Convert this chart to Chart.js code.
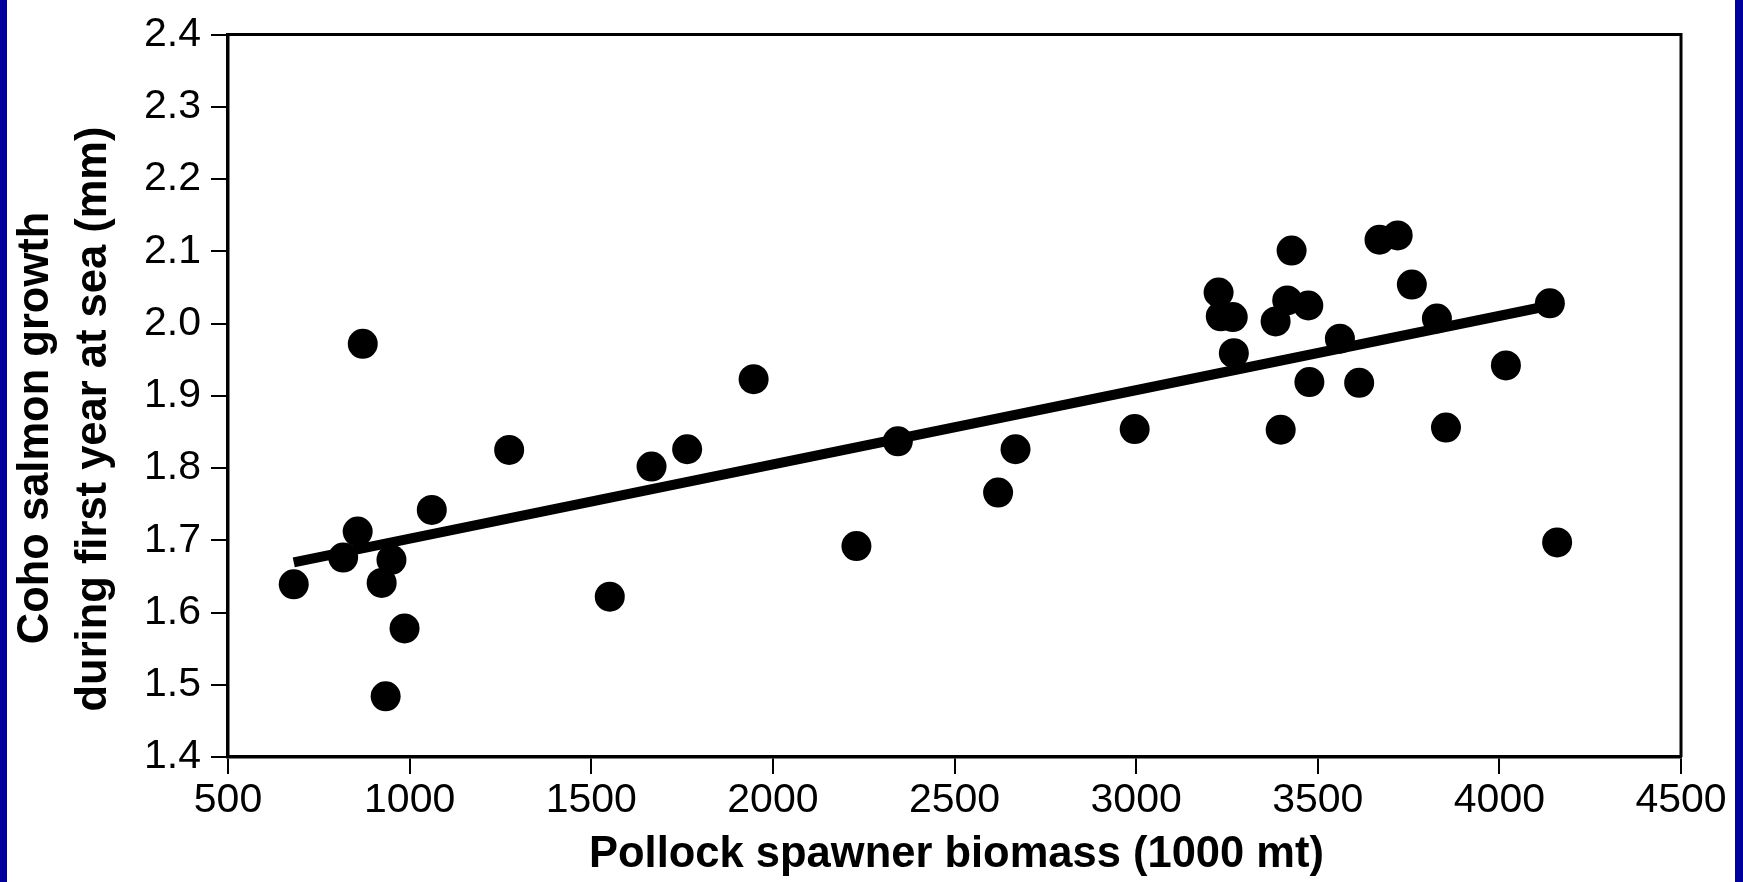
<!DOCTYPE html>
<html>
<head>
<meta charset="utf-8">
<title>Coho salmon growth vs pollock spawner biomass</title>
<script src="https://cdn.jsdelivr.net/npm/chart.js@4.4.1/dist/chart.umd.min.js"></script>
<style>
  html, body { margin: 0; padding: 0; background: #00009c; }
  #wrap { position: absolute; left: 7px; top: 0; width: 1728px; height: 882px; background: #ffffff; }
  canvas { display: block; }
</style>
</head>
<body>
<div id="wrap"><canvas id="chart" width="1728" height="882"></canvas></div>
<script>
// Pollock spawner biomass (1000 mt) for each year
const biomass = [681, 817, 857, 871, 923, 934, 950, 986, 1061, 1274,
                 1551, 1666, 1764, 1947, 2230, 2344, 2620, 2668, 2996, 3227,
                 3233, 3266, 3269, 3384, 3398, 3416, 3428, 3474, 3477, 3561,
                 3614, 3670, 3720, 3759, 3828, 3853, 4018, 4139, 4159];

// Coho salmon growth during first year at sea (mm)
const growth = [1.639, 1.676, 1.712, 1.972, 1.641, 1.484, 1.673, 1.578, 1.742, 1.825,
                1.622, 1.802, 1.826, 1.923, 1.692, 1.837, 1.766, 1.826, 1.854, 2.043,
                2.010, 2.009, 1.959, 2.003, 1.853, 2.032, 2.101, 2.025, 1.919, 1.979,
                1.918, 2.116, 2.122, 2.054, 2.007, 1.856, 1.942, 2.028, 1.697];

// Fitted trend line end points
const trendX = [681, 4140];
const trendY = [1.6695, 2.025];

// Axis ticks
const xTickValues = [500, 1000, 1500, 2000, 2500, 3000, 3500, 4000, 4500];
const xTickLabels = ['500', '1000', '1500', '2000', '2500', '3000', '3500', '4000', '4500'];
const yTickValues = [1.4, 1.5, 1.6, 1.7, 1.8, 1.9, 2.0, 2.1, 2.2, 2.3, 2.4];
const yTickLabels = ['1.4', '1.5', '1.6', '1.7', '1.8', '1.9', '2.0', '2.1', '2.2', '2.3', '2.4'];

const xTitle = 'Pollock spawner biomass (1000 mt)';
const yTitle = ['Coho salmon growth', 'during first year at sea (mm)'];

const FONT = '"Liberation Sans", Arial, Helvetica, sans-serif';

const points = biomass.map((b, i) => ({ x: b, y: growth[i] }));
const trend = trendX.map((b, i) => ({ x: b, y: trendY[i] }));

// Closes the plot box (top and right edges) and draws the axis titles
const frameAndTitles = {
  id: 'frameAndTitles',
  afterDraw(chart) {
    const { ctx, chartArea: a } = chart;
    ctx.save();
    ctx.strokeStyle = '#000';
    ctx.lineWidth = 3;
    ctx.beginPath();
    ctx.moveTo(a.left, a.top);
    ctx.lineTo(a.right, a.top);
    ctx.lineTo(a.right, a.bottom);
    ctx.stroke();

    ctx.fillStyle = '#000';
    ctx.font = 'bold 43.5px ' + FONT;
    ctx.textAlign = 'center';
    ctx.textBaseline = 'alphabetic';
    ctx.fillText(xTitle, (a.left + a.right) / 2 + 2, 867);

    const baselines = [41, 99];
    const centers = [428, 419];
    yTitle.forEach((line, i) => {
      ctx.save();
      ctx.translate(baselines[i], centers[i]);
      ctx.rotate(-Math.PI / 2);
      ctx.fillText(line, 0, 0);
      ctx.restore();
    });
    ctx.restore();
  }
};

const tickFont = { family: FONT, size: 41 };
const gridOpts = {
  display: true,
  drawOnChartArea: false,
  drawTicks: true,
  tickLength: 17,
  lineWidth: 2,
  tickWidth: 2,
  color: '#000',
  tickColor: '#000'
};
const borderOpts = { display: true, color: '#000', width: 3.5 };

new Chart(document.getElementById('chart'), {
  type: 'scatter',
  data: {
    datasets: [
      {
        type: 'line',
        data: trend,
        borderColor: '#000',
        borderWidth: 10,
        borderCapStyle: 'butt',
        pointRadius: 0,
        fill: false,
        tension: 0
      },
      {
        type: 'scatter',
        data: points,
        backgroundColor: '#000',
        borderColor: '#000',
        borderWidth: 0,
        pointRadius: 15,
        pointHoverRadius: 15
      }
    ]
  },
  options: {
    responsive: false,
    animation: false,
    devicePixelRatio: 1,
    events: [],
    layout: { padding: { top: 31, right: 54, left: 0, bottom: 0 } },
    plugins: {
      legend: { display: false },
      tooltip: { enabled: false },
      title: { display: false }
    },
    scales: {
      x: {
        type: 'linear',
        position: 'bottom',
        min: 500,
        max: 4500,
        afterBuildTicks(scale) { scale.ticks = xTickValues.map(v => ({ value: v })); },
        afterFit(scale) { scale.height = 125; },
        ticks: {
          color: '#000',
          font: tickFont,
          padding: 2,
          maxRotation: 0,
          autoSkip: false,
          callback: (v) => xTickLabels[xTickValues.indexOf(v)]
        },
        grid: gridOpts,
        border: borderOpts,
        title: { display: false }
      },
      y: {
        type: 'linear',
        position: 'left',
        min: 1.4,
        max: 2.4,
        afterBuildTicks(scale) { scale.ticks = yTickValues.map(v => ({ value: v })); },
        afterFit(scale) { scale.width = 221; },
        ticks: {
          color: '#000',
          font: tickFont,
          padding: 10,
          autoSkip: false,
          callback: (v) => {
            const i = yTickValues.findIndex(t => Math.abs(t - v) < 1e-9);
            return i >= 0 ? yTickLabels[i] : '';
          }
        },
        grid: gridOpts,
        border: borderOpts,
        title: { display: false }
      }
    }
  },
  plugins: [frameAndTitles]
});
</script>
</body>
</html>
